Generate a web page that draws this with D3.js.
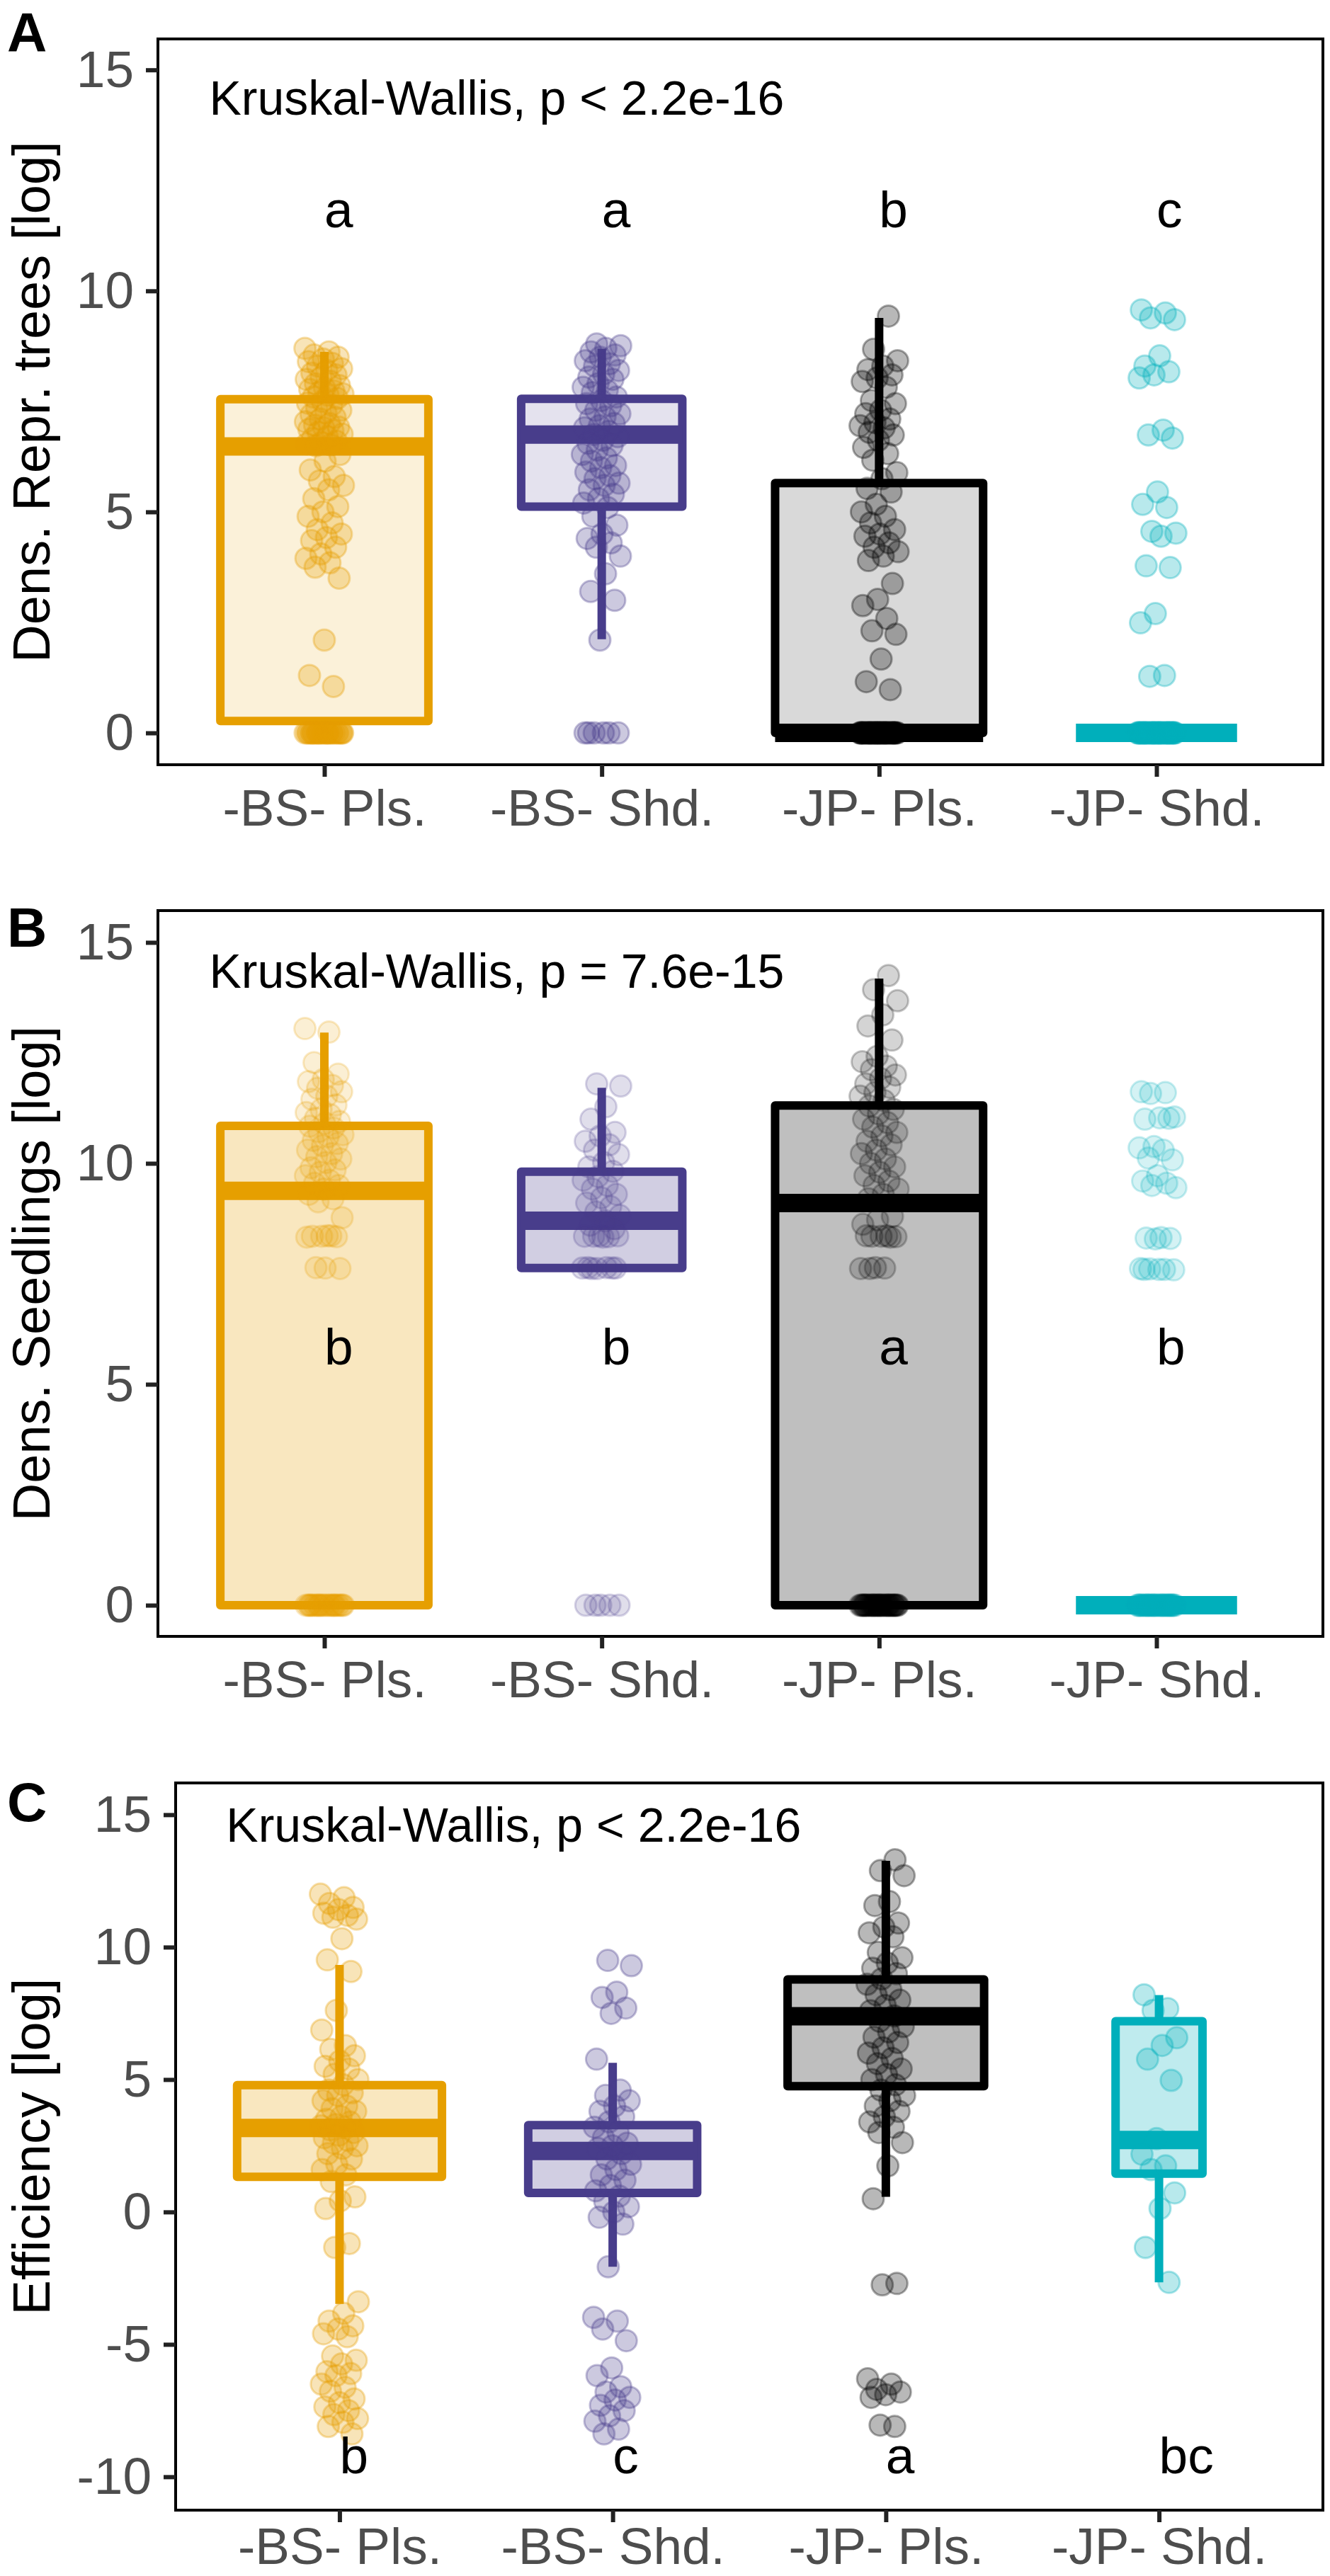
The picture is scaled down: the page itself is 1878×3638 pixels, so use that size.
<!DOCTYPE html>
<html>
<head>
<meta charset="utf-8">
<script src="https://cdn.jsdelivr.net/npm/d3@7"></script>
<style>
body { margin: 0; background: #fff; }
</style>
</head>
<body>
<script>
// categories and colours
const groups = ["-BS- Pls.", "-BS- Shd.", "-JP- Pls.", "-JP- Shd."]
const colors = ["#E69F00", "#483D8B", "#000000", "#00AFBB"]

// A: density of reproductive trees (log), jittered observations per group
const treesPts = [
  [8.7, 8.62, 8.55, 8.5, 8.46, 8.4, 8.36, 8.3, 8.24, 8.2, 8.14, 8.1, 8.05, 8.0, 7.96, 7.9, 7.86, 7.8, 7.77, 7.74, 7.7, 7.67, 7.64, 7.6, 7.57,
   7.5, 7.46, 7.41, 7.35, 7.3, 7.24, 7.2, 7.14, 7.1, 7.04, 7.0, 6.96, 6.92, 6.9, 6.87, 6.84, 6.8, 6.76, 6.7, 6.66, 6.6, 6.57, 6.54, 6.52, 6.5,
   6.3, 6.15, 5.95, 5.8, 5.7, 5.6, 5.5, 5.3, 5.12, 5.0, 4.9, 4.75, 4.6, 4.5, 4.42, 4.35, 4.2, 4.05, 3.95, 3.85, 3.75, 3.5,
   2.1, 1.3, 1.05,
   0, 0, 0, 0, 0, 0, 0, 0, 0, 0, 0, 0, 0, 0, 0, 0, 0, 0, 0, 0, 0, 0, 0, 0, 0],
  [8.8, 8.76, 8.7, 8.62, 8.55, 8.5, 8.42, 8.35, 8.3, 8.2, 8.12, 8.05, 8.0, 7.9, 7.82, 7.75, 7.7, 7.6, 7.52, 7.45, 7.4, 7.3, 7.22, 7.15,
   7.1, 7.0, 6.95, 6.9, 6.82, 6.75, 6.7, 6.62, 6.55, 6.5, 6.4, 6.3, 6.22, 6.15, 6.05, 6.0, 5.9, 5.82, 5.75, 5.65, 5.6, 5.5, 5.4, 5.3,
   5.2, 5.1, 4.9, 4.7, 4.5, 4.4, 4.3, 4.2, 4.0, 3.6, 3.2, 3.0, 2.1,
   0, 0, 0, 0, 0, 0],
  [9.43, 8.68, 8.42, 8.3, 8.22, 8.1, 8.03, 7.95, 7.82, 7.52, 7.45, 7.3, 7.22, 7.1, 7.02, 6.95, 6.9, 6.8, 6.74, 6.62, 6.46, 6.32, 6.17,
   5.89, 5.75, 5.53, 5.45, 5.17, 5.0, 4.9, 4.75, 4.6, 4.5, 4.45, 4.3, 4.2, 4.1, 4.0, 3.9, 3.38, 3.02, 2.88, 2.59, 2.31, 2.23, 1.67,
   1.16, 0.98,
   0, 0, 0, 0, 0, 0, 0, 0, 0, 0, 0, 0, 0, 0, 0, 0, 0, 0, 0, 0, 0, 0, 0, 0, 0, 0, 0, 0, 0, 0, 0, 0, 0, 0, 0, 0, 0, 0, 0, 0],
  [9.57, 9.5, 9.39, 9.35, 8.53, 8.3, 8.17, 8.1, 8.03, 6.85, 6.74, 6.67, 5.45, 5.17, 5.1, 4.56, 4.52, 4.45, 3.78, 3.74, 2.7, 2.49,
   1.3, 1.28,
   0, 0, 0, 0, 0, 0, 0, 0, 0, 0, 0, 0, 0, 0, 0, 0, 0, 0, 0, 0, 0, 0, 0, 0, 0, 0, 0, 0, 0, 0, 0, 0, 0, 0, 0, 0, 0, 0, 0, 0]
]
// box statistics: [lower whisker, Q1, median, Q3, upper whisker]
const treesStats = [[0, 0.27, 6.48, 7.55, 8.62], [2.12, 5.12, 6.75, 7.56, 8.69], [0, 0, 0, 5.65, 9.39], [0, 0, 0, 0, 0]]
const treesN = [160, 96, 160, 96]
const treesLetters = ["a", "a", "b", "c"]

// B: density of seedlings (log)
const seedPts = [
  [13.05, 12.97, 12.28, 12.02, 11.9, 11.85, 11.76, 11.7, 11.62, 11.52, 11.45, 11.32, 11.22, 11.15, 11.1, 11.02, 10.95, 10.9,
   10.84, 10.8, 10.72, 10.65, 10.6, 10.52, 10.45, 10.4, 10.3, 10.22, 10.15, 10.1, 10.02, 9.9, 9.85, 9.8, 9.72, 9.62, 9.55, 9.5,
   9.42, 9.3, 9.2, 9.13, 8.77, 8.36, 8.35, 8.34, 8.35, 8.33, 8.36, 7.64, 7.62, 7.63,
   0, 0, 0, 0, 0, 0, 0, 0, 0, 0, 0, 0, 0, 0, 0, 0, 0, 0, 0, 0, 0, 0, 0, 0, 0],
  [11.8, 11.75, 11.28, 11.0, 10.7, 10.62, 10.5, 10.42, 10.3, 10.2, 10.02, 9.92, 9.82, 9.7, 9.62, 9.5, 9.42, 9.3, 9.22, 9.1, 9.02,
   8.9, 8.82, 8.7, 8.6, 8.52, 8.36, 8.35, 8.34, 8.35, 8.36, 8.33, 7.64, 7.63, 7.62, 7.63, 7.64, 7.62, 7.63,
   0, 0, 0, 0, 0],
  [14.25, 13.93, 13.68, 13.36, 13.11, 12.79, 12.42, 12.3, 12.2, 12.12, 12.0, 11.92, 11.8, 11.72, 11.6, 11.52, 11.42, 11.3, 11.22,
   11.12, 11.0, 10.92, 10.82, 10.7, 10.62, 10.5, 10.42, 10.3, 10.22, 10.1, 10.0, 9.92, 9.8, 9.72, 9.6, 9.5, 9.42, 9.3, 9.2, 8.8,
   8.72, 8.62, 8.36, 8.35, 8.34, 8.35, 8.36, 8.33, 7.64, 7.62, 7.63, 7.62,
   0, 0, 0, 0, 0, 0, 0, 0, 0, 0, 0, 0, 0, 0, 0, 0, 0, 0, 0, 0, 0, 0, 0, 0, 0, 0, 0, 0, 0, 0, 0, 0, 0, 0, 0, 0, 0, 0, 0, 0],
  [11.62, 11.6, 11.58, 11.05, 11.03, 11.0, 11.02, 10.38, 10.35, 10.3, 10.12, 10.08, 9.72, 9.6, 9.55, 9.5, 9.45, 8.32, 8.31, 8.3,
   8.29, 7.62, 7.6, 7.61, 7.59, 7.6, 7.6,
   0, 0, 0, 0, 0, 0, 0, 0, 0, 0, 0, 0, 0, 0, 0, 0, 0, 0, 0, 0, 0, 0, 0, 0, 0, 0, 0, 0, 0, 0, 0, 0, 0, 0, 0, 0, 0, 0, 0, 0]
]
const seedStats = [[0, 0, 9.38, 10.85, 12.96], [7.63, 7.63, 8.7, 9.81, 11.71], [0, 0, 9.1, 11.31, 14.18], [0, 0, 0, 0, 0]]
const seedN = [160, 96, 160, 96]
const seedLetters = ["b", "b", "a", "b"]

// C: efficiency (log)
const effPts = [
  [12.0, 11.87, 11.65, 11.5, 11.42, 11.28, 11.2, 11.13, 11.06, 10.32, 9.52, 9.08, 7.61, 6.87, 6.28, 6.14, 5.9, 5.7, 5.5, 5.4, 5.2,
   5.0, 4.8, 4.6, 4.5, 4.4, 4.2, 4.0, 3.9, 3.8, 3.6, 3.5, 3.4, 3.3, 3.25, 3.2, 3.1, 3.0, 2.9, 2.8, 2.7, 2.6, 2.5, 2.4, 2.2, 2.0,
   1.8, 1.6, 1.4, 1.15, 0.57, 0.42, 0.13, -1.19, -1.34, -3.39, -3.83, -4.12, -4.3, -4.42, -4.6, -4.71, -5.44, -5.6, -5.74, -6.03,
   -6.1, -6.18, -6.5, -6.62, -6.77, -7.06, -7.2, -7.36, -7.5, -7.65, -7.8, -7.94, -8.1, -8.38],
  [9.5, 9.3, 8.3, 8.1, 7.7, 7.5, 5.77, 4.6, 4.4, 4.2, 4.0, 3.8, 3.6, 3.4, 3.2, 3.0, 2.8, 2.6, 2.5, 2.4, 2.2, 2.0, 1.8, 1.6, 1.4,
   1.2, 1.0, 0.8, 0.6, 0.4, 0.2, 0.0, -0.2, -0.46, -2.07, -3.98, -4.12, -4.42, -4.86, -5.89, -6.18, -6.6, -6.8, -7.0, -7.1, -7.3,
   -7.5, -7.7, -7.9, -8.2, -8.38],
  [13.3, 12.89, 12.7, 11.72, 11.57, 10.91, 10.76, 10.54, 10.39, 9.8, 9.6, 9.4, 9.2, 9.0, 8.8, 8.6, 8.4, 8.2, 8.0, 7.8, 7.6, 7.4,
   7.2, 7.0, 6.8, 6.6, 6.4, 6.2, 6.0, 5.8, 5.6, 5.4, 5.2, 5.0, 4.8, 4.6, 4.4, 4.2, 4.0, 3.8, 3.6, 3.4, 3.2, 3.0, 2.62, 1.74, 0.5,
   -2.7, -2.75, -6.3, -6.5, -6.7, -6.8, -6.9, -7.0, -8.1, -8.05],
  [8.2, 7.68, 7.61, 6.58, 6.29, 5.77, 4.97, 2.77, 2.18, 1.74, 1.6, 0.72, 0.13, -1.34, -2.66]
]
const effStats = [[-3.47, 1.33, 3.17, 4.79, 9.33], [-2.07, 0.72, 2.3, 3.28, 5.63], [0.57, 4.75, 7.39, 8.78, 13.26], [-2.66, 1.45, 2.72, 7.2, 8.19]]
const effN = [100, 68, 92, 18]
const effLetters = ["b", "c", "a", "bc"]

const kwLabels = ["Kruskal-Wallis, p < 2.2e-16", "Kruskal-Wallis, p = 7.6e-15", "Kruskal-Wallis, p < 2.2e-16"]

const font = "'Liberation Sans', Arial, Helvetica, sans-serif"
const W = 1878, H = 3638

const svg = d3.select("body").append("svg")
  .attr("width", W)
  .attr("height", H)

const panels = [
  {tag: "A", tagY: 73, top: 55, bottom: 1080, left: 223, dom: [-0.72, 15.7], ticks: [0, 5, 10, 15], labY: 86,
   title: "Dens. Repr. trees [log]", pts: treesPts, stats: treesStats, n: treesN, letters: treesLetters, letterY: 11.44,
   kw: kwLabels[0], ptAlpha: 0.28, boxAlpha: 0.15},
  {tag: "B", tagY: 1337, top: 1286, bottom: 2311, left: 223, dom: [-0.705, 15.72], ticks: [0, 5, 10, 15], labY: 86,
   title: "Dens. Seedlings [log]", pts: seedPts, stats: seedStats, n: seedN, letters: seedLetters, letterY: 5.45,
   kw: kwLabels[1], ptAlpha: 0.17, boxAlpha: 0.25},
  {tag: "C", tagY: 2572, top: 2518, bottom: 3545, left: 248, dom: [-11.26, 16.2], ticks: [-10, -5, 0, 5, 10, 15], labY: 76,
   title: "Efficiency [log]", pts: effPts, stats: effStats, n: effN, letters: effLetters, letterY: -9.87,
   kw: kwLabels[2], ptAlpha: 0.28, boxAlpha: 0.25}
]
const right = 1868

// spread points sideways (deterministic, like a small jitter)
const jit = (j, i) => ((j * 0.618034 + i * 0.37) % 1 - 0.5) * 0.14

panels.forEach(p => {
  const g = svg.append("g")
  const x = d3.scaleLinear().domain([0.4, 4.6]).range([p.left, right])
  const y = d3.scaleLinear().domain(p.dom).range([p.bottom, p.top])
  const step = x(2) - x(1)
  const nMax = d3.max(p.n)

  // boxplots
  groups.forEach((grp, i) => {
    const [lo, q1, med, q3, hi] = p.stats[i]
    const hw = 0.375 * step * Math.sqrt(p.n[i] / nMax)
    const cx = x(i + 1)
    g.append("line")
      .attr("x1", cx).attr("x2", cx)
      .attr("y1", y(q3)).attr("y2", y(hi))
      .attr("stroke", colors[i]).attr("stroke-width", 12)
    g.append("line")
      .attr("x1", cx).attr("x2", cx)
      .attr("y1", y(q1)).attr("y2", y(lo))
      .attr("stroke", colors[i]).attr("stroke-width", 12)
    g.append("rect")
      .attr("x", cx - hw)
      .attr("y", y(q3))
      .attr("width", 2 * hw)
      .attr("height", y(q1) - y(q3))
      .attr("fill", colors[i])
      .attr("fill-opacity", p.boxAlpha)
      .attr("stroke", colors[i])
      .attr("stroke-width", 12)
      .attr("stroke-linejoin", "round")
    g.append("line")
      .attr("x1", cx - hw).attr("x2", cx + hw)
      .attr("y1", y(med)).attr("y2", y(med))
      .attr("stroke", colors[i]).attr("stroke-width", 26)
  })

  // jittered points
  p.pts.forEach((vals, i) => {
    g.append("g").selectAll("circle")
      .data(vals)
      .enter()
      .append("circle")
      .attr("cx", (d, j) => x(i + 1) + jit(j, i) * step)
      .attr("cy", d => y(d))
      .attr("r", 15)
      .attr("fill", colors[i])
      .attr("fill-opacity", p.ptAlpha)
      .attr("stroke", colors[i])
      .attr("stroke-opacity", p.ptAlpha + 0.05)
      .attr("stroke-width", 3)
  })

  // panel border
  g.append("rect")
    .attr("x", p.left).attr("y", p.top)
    .attr("width", right - p.left).attr("height", p.bottom - p.top)
    .attr("fill", "none").attr("stroke", "#000").attr("stroke-width", 4)

  // axes
  const ya = g.append("g")
    .attr("transform", `translate(${p.left},0)`)
    .call(d3.axisLeft(y).tickValues(p.ticks).tickSize(17).tickPadding(17).tickFormat(d => String(d)))
  ya.select(".domain").remove()
  ya.attr("font-family", font).attr("font-size", 73)
  ya.selectAll("line").attr("stroke", "#222").attr("stroke-width", 6)
  ya.selectAll("text").attr("fill", "#4D4D4D")

  const xa = g.append("g")
    .attr("transform", `translate(0,${p.bottom})`)
    .call(d3.axisBottom(x).tickValues([1, 2, 3, 4]).tickSize(17).tickFormat(d => groups[d - 1]))
  xa.select(".domain").remove()
  xa.attr("font-family", font).attr("font-size", 73)
  xa.selectAll("line").attr("stroke", "#222").attr("stroke-width", 6)
  xa.selectAll("text").attr("fill", "#4D4D4D").attr("y", p.labY).attr("dy", null)

  // y title
  g.append("text")
    .attr("transform", `translate(70,${(p.top + p.bottom) / 2}) rotate(-90)`)
    .attr("text-anchor", "middle")
    .attr("font-family", font)
    .attr("font-size", 74)
    .attr("fill", "#000")
    .text(p.title)

  // panel tag
  g.append("text")
    .attr("x", 10).attr("y", p.tagY)
    .attr("font-family", font)
    .attr("font-weight", "bold")
    .attr("font-size", 78)
    .text(p.tag)

  // Kruskal-Wallis label
  g.append("text")
    .attr("x", x(0.585)).attr("y", y(13.98))
    .attr("font-family", font)
    .attr("font-size", 68)
    .attr("fill", "#000")
    .text(p.kw)

  // group letters
  g.selectAll(".letter")
    .data(p.letters)
    .enter()
    .append("text")
    .attr("class", "letter")
    .attr("x", (d, i) => x(i + 1))
    .attr("y", y(p.letterY))
    .attr("font-family", font)
    .attr("font-size", 73)
    .attr("fill", "#000")
    .text(d => d)
})
</script>
</body>
</html>
